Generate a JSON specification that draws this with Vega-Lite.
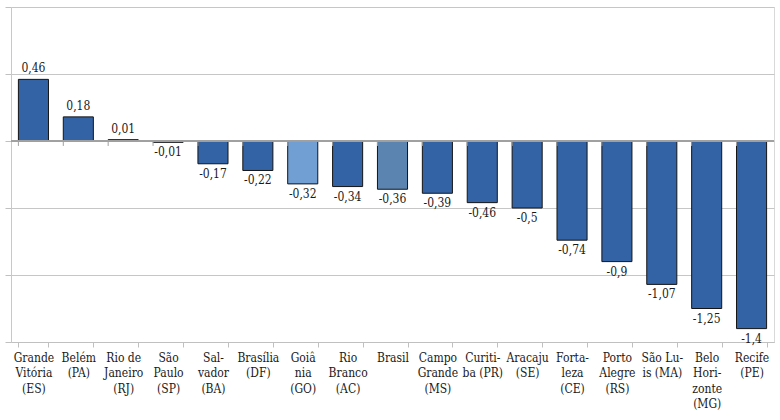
{
  "$schema": "https://vega.github.io/schema/vega-lite/v6.json",
  "width": 763,
  "height": 335,
  "autosize": {"type": "none"},
  "padding": {"left": 11, "top": 7, "right": 6, "bottom": 78},
  "config": {
    "locale": {"number": {"decimal": ",", "thousands": ".", "grouping": [3], "currency": ["R$", ""], "minus": "-"}},
    "view": {"stroke": "#d9d9d9"},
    "font": "DejaVu Serif Condensed",
    "text": {"font": "DejaVu Serif Condensed", "fontSize": 12, "color": "#1a1a1a"}
  },
  "data": {
    "values": [
      {"cat": "Grande|Vitória|(ES)", "v": 0.46, "grupo": "capital"},
      {"cat": "Belém|(PA)", "v": 0.18, "grupo": "capital"},
      {"cat": "Rio de|Janeiro|(RJ)", "v": 0.01, "grupo": "capital"},
      {"cat": "São|Paulo|(SP)", "v": -0.01, "grupo": "capital"},
      {"cat": "Sal-|vador|(BA)", "v": -0.17, "grupo": "capital"},
      {"cat": "Brasília|(DF)", "v": -0.22, "grupo": "capital"},
      {"cat": "Goiâ|nia|(GO)", "v": -0.32, "grupo": "goiania"},
      {"cat": "Rio|Branco|(AC)", "v": -0.34, "grupo": "capital"},
      {"cat": "Brasil", "v": -0.36, "grupo": "brasil"},
      {"cat": "Campo|Grande|(MS)", "v": -0.39, "grupo": "capital"},
      {"cat": "Curiti-|ba (PR)", "v": -0.46, "grupo": "capital"},
      {"cat": "Aracaju|(SE)", "v": -0.5, "grupo": "capital"},
      {"cat": "Forta-|leza|(CE)", "v": -0.74, "grupo": "capital"},
      {"cat": "Porto|Alegre|(RS)", "v": -0.9, "grupo": "capital"},
      {"cat": "São Lu-|is (MA)", "v": -1.07, "grupo": "capital"},
      {"cat": "Belo|Hori-|zonte|(MG)", "v": -1.25, "grupo": "capital"},
      {"cat": "Recife|(PE)", "v": -1.4, "grupo": "capital"}
    ]
  },
  "layer": [
    {
      "mark": {"type": "bar", "stroke": "#141414", "strokeWidth": 1},
      "encoding": {
        "x": {
          "field": "cat", "type": "nominal", "sort": null,
          "scale": {"paddingInner": 0.33, "paddingOuter": 0.165},
          "axis": {
            "title": null, "labelAngle": 0, "labelExpr": "split(datum.label, '|')",
            "labelFont": "DejaVu Serif Condensed", "labelFontSize": 12, "labelColor": "#1a1a1a",
            "labelLineHeight": 15.5, "labelPadding": 5, "labelLimit": 120, "labelOverlap": false,
            "labelBaseline": "top",
            "domainColor": "#c0c0c0", "tickColor": "#c0c0c0", "tickSize": 5, "tickBand": "extent"
          }
        },
        "y": {
          "field": "v", "type": "quantitative",
          "scale": {"domain": [-1.5, 1], "nice": false},
          "axis": {
            "title": null, "labels": false,
            "values": [-1.5, -1.25, -1, -0.75, -0.5, -0.25, 0, 0.25, 0.5, 0.75, 1],
            "domainColor": "#c8c8c8", "tickColor": "#c0c0c0", "tickSize": 6,
            "tickOpacity": {"condition": {"test": "abs(datum.value % 0.5) < 0.001", "value": 1}, "value": 0},
            "gridColor": {"condition": {"test": "abs(datum.value % 0.5) < 0.001", "value": "#c6c6c6"}, "value": "#e3e3e3"}
          }
        },
        "color": {
          "field": "grupo", "type": "nominal", "legend": null,
          "scale": {"domain": ["capital", "goiania", "brasil"], "range": ["#3463a5", "#729fd3", "#5b84b0"]}
        }
      }
    },
    {
      "mark": {"type": "rule", "color": "#a0a0a0", "strokeWidth": 1},
      "encoding": {"y": {"datum": 0}}
    },
    {
      "mark": {"type": "rule", "color": "#a0a0a0", "strokeWidth": 1},
      "encoding": {
        "x": {"field": "cat", "type": "nominal", "sort": null, "bandPosition": 0},
        "y": {"datum": 0},
        "y2": {"datum": -0.037}
      }
    },
    {
      "transform": [{"filter": "datum.v >= 0"}],
      "mark": {"type": "text", "baseline": "bottom", "dy": -4},
      "encoding": {
        "x": {"field": "cat", "type": "nominal", "sort": null},
        "y": {"field": "v", "type": "quantitative"},
        "text": {"field": "v", "type": "quantitative", "format": ".2~f"}
      }
    },
    {
      "transform": [{"filter": "datum.v < 0"}],
      "mark": {"type": "text", "baseline": "top", "dy": 5},
      "encoding": {
        "x": {"field": "cat", "type": "nominal", "sort": null},
        "y": {"field": "v", "type": "quantitative"},
        "text": {"field": "v", "type": "quantitative", "format": ".2~f"}
      }
    }
  ]
}
